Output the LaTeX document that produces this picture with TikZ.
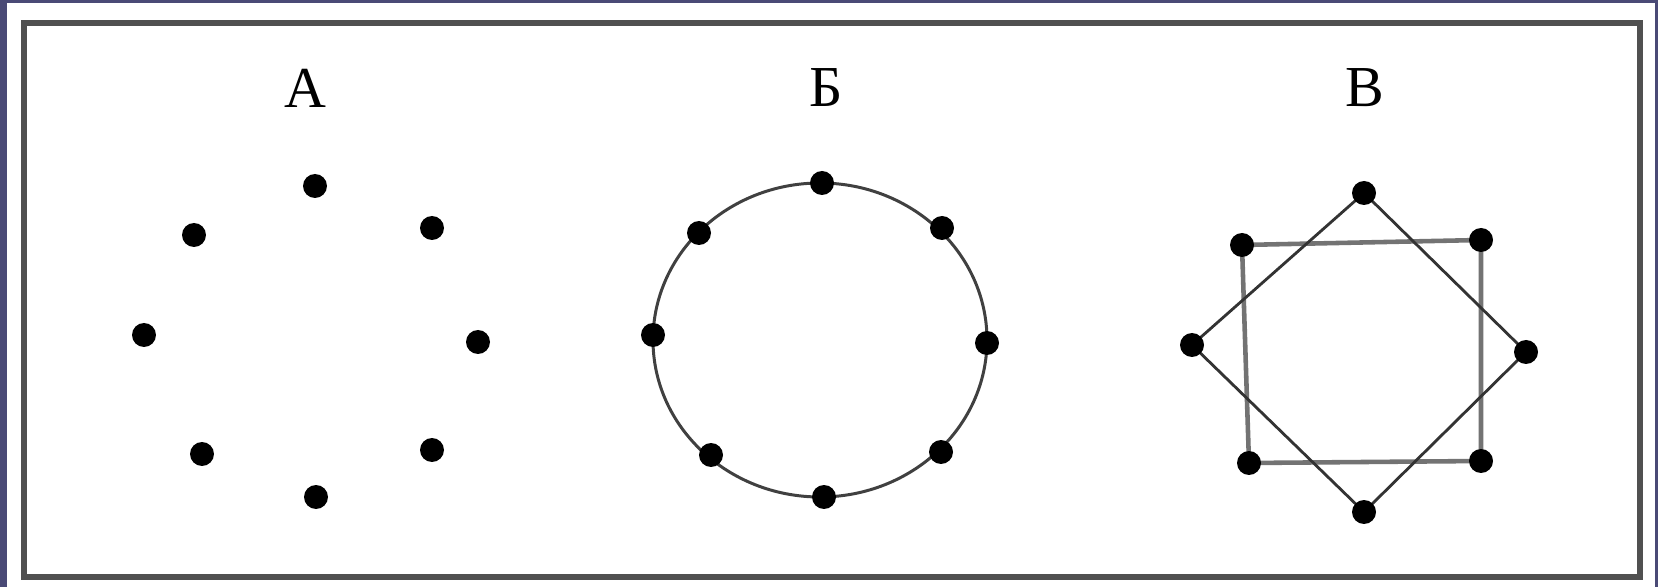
\documentclass[tikz,border=0pt]{standalone}
\usepackage{fontspec}
\setmainfont{Liberation Serif}
\usetikzlibrary{positioning}
\definecolor{slate}{RGB}{74,74,118}
\definecolor{frame}{RGB}{80,80,80}
\definecolor{sqgray}{RGB}{115,115,115}
\pgfdeclarelayer{bg}
\pgfsetlayers{bg,main}

\begin{document}
\begin{tikzpicture}[x=0.02cm, y=-0.02cm,
  dot/.style={circle, fill=black, inner sep=0pt, minimum size=0.48cm},
  lbl/.style={inner sep=0pt, font=\fontsize{33}{33}\selectfont},
  ringline/.style={line width=1.7pt, draw=black!75},
  sqline/.style={line width=2.6pt, draw=sqgray},
  dmline/.style={line width=1.6pt, draw=black!80}]
% slide background and white card
\begin{pgfonlayer}{bg}
\fill[slate] (0,0) rectangle (1658,587);
\fill[white] (7,3) rectangle (1655,587);
\end{pgfonlayer}
\useasboundingbox (0,0) rectangle (1658,587);
\draw[frame, line width=3pt] (24,23) rectangle (1640,577);

% titles
\node[lbl] (tA) at (305,88) {А};
\node[lbl] (tB) at (826,88) {Б};
\node[lbl] (tC) at (1365,88) {В};

% A: loose points
\node[dot] (a1) at (315,186) {};
\node[dot] (a2) at (194,235) {};
\node[dot] (a3) at (432,228) {};
\node[dot] (a4) at (144,335) {};
\node[dot] (a5) at (478,342) {};
\node[dot] (a6) at (202,454) {};
\node[dot] (a7) at (432,450) {};
\node[dot] (a8) at (316,497) {};

% B: points on a ring
\coordinate (bc) at (820,340);
\node[dot] (b1) at (822,183) {};
\node[dot] (b2) at (699,233) {};
\node[dot] (b3) at (942,228) {};
\node[dot] (b4) at (653,335) {};
\node[dot] (b5) at (987,343) {};
\node[dot] (b6) at (711,455) {};
\node[dot] (b7) at (941,452) {};
\node[dot] (b8) at (824,497) {};
\begin{pgfonlayer}{bg}
\draw[ringline] (bc) ellipse [x radius=167, y radius=157];
\end{pgfonlayer}

% C: square and diamond
\node[dot] (c1) at (1242,245) {};
\node[dot] (c2) at (1481,240) {};
\node[dot] (c3) at (1249,463) {};
\node[dot] (c4) at (1481,461) {};
\node[dot] (d1) at (1364,193) {};
\node[dot] (d2) at (1192,345) {};
\node[dot] (d3) at (1526,352) {};
\node[dot] (d4) at (1364,512) {};
\begin{pgfonlayer}{bg}
\draw[sqline] (c1.center) -- (c2.center) -- (c4.center) -- (c3.center) -- cycle;
\draw[dmline] (d1.center) -- (d3.center) -- (d4.center) -- (d2.center) -- cycle;
\end{pgfonlayer}
\end{tikzpicture}
\end{document}
